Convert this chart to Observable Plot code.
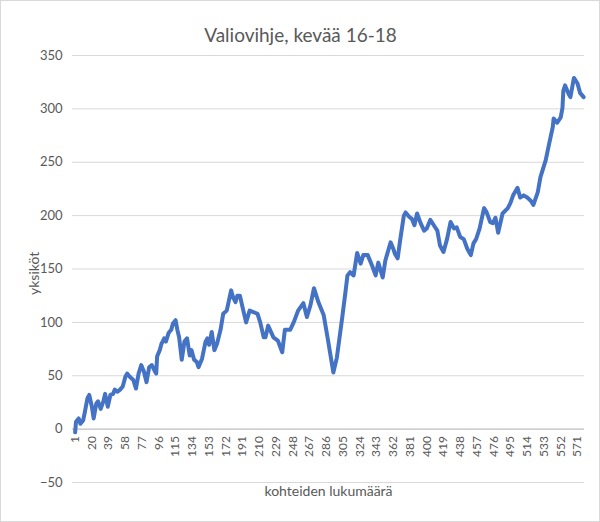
<!DOCTYPE html>
<html>
<head>
<meta charset="utf-8">
<script src="https://cdn.jsdelivr.net/npm/d3@7"></script>
<script src="https://cdn.jsdelivr.net/npm/@observablehq/plot@0.6"></script>
<style>
  html, body { margin: 0; padding: 0; background: #fff; }
  #chart svg { display: block; }
</style>
</head>
<body>
<div id="chart"></div>
<script>
const title = "Valiovihje, kevää 16-18";
const yTitle = "yksiköt";
const xTitle = "kohteiden lukumäärä";

const itemIndex = [1,2,5,7,10,12,15,17,20,22,25,27,30,33,35,38,41,44,46,49,52,55,58,60,63,67,70,73,76,79,82,85,88,91,93,94,97,99,101,102,
  104,107,110,112,115,117,119,122,125,128,131,133,136,139,141,145,149,151,153,156,159,162,166,169,173,178,180,183,185,188,191,195,199,
  208,211,215,217,220,226,231,236,239,245,249,254,260,264,268,272,277,283,288,294,298,304,308,310,313,317,321,325,328,333,338,342,345,350,353,
  359,362,364,367,370,374,376,380,383,386,389,393,397,400,404,408,412,415,419,423,427,431,434,438,442,446,450,453,456,460,465,468,472,
  475,478,481,486,492,495,498,503,506,510,514,518,521,526,529,535,538,543,544,548,552,554,555,557,561,563,567,571,574,578];

const units = [-3,7,10,5,8,16,29,32,21,10,24,26,19,26,33,21,32,33,37,35,37,40,49,52,49,46,38,52,60,54,44,58,60,55,52,68,74,80,83,85,
  82,90,93,99,102,93,86,65,82,85,69,74,65,63,58,66,82,85,79,91,74,80,93,108,111,130,124,119,125,125,114,100,111,
  108,100,86,86,97,86,83,72,93,93,100,111,118,105,116,132,119,107,83,53,67,104,130,144,147,144,165,155,163,163,153,144,156,142,158,
  175,169,164,160,178,200,203,199,197,191,202,193,186,188,196,191,186,172,166,178,194,188,189,180,178,169,163,174,178,188,207,203,194,
  193,198,184,202,207,212,219,226,217,219,217,214,210,222,236,252,264,283,291,287,292,301,317,322,314,311,329,324,315,311];

const tickLabels = [1,20,39,58,77,96,115,134,153,172,191,210,229,248,267,286,305,324,343,362,381,400,419,438,457,476,495,514,533,552,571];
const yTicks = [-50,0,50,100,150,200,250,300,350];

const data = itemIndex.map((d, i) => ({i: d, v: units[i]}));

const font = "Lato, 'Open Sans', sans-serif";
const gray = "#595959";

const chart = Plot.plot({
  width: 600,
  height: 522,
  marginLeft: 72,
  marginRight: 16,
  marginTop: 55,
  marginBottom: 40,
  style: {fontFamily: font, color: gray, background: "#fff"},
  x: {domain: [-2, 579], axis: null},
  y: {domain: [-50, 350], ticks: yTicks},
  marks: [
    Plot.gridY(yTicks, {stroke: "#d9d9d9", strokeOpacity: 1, strokeWidth: 1}),
    Plot.ruleY([0], {stroke: "#bfbfbf", strokeWidth: 1}),
    Plot.axisY(yTicks, {tickSize: 0, tickPadding: 10, fontSize: 13, fill: gray, label: null}),
    Plot.text(tickLabels, {x: d => d, y: 0, text: d => String(d), rotate: -90, textAnchor: "end", lineAnchor: "middle", dy: 7, fontSize: 12, fill: gray}),
    Plot.line(data, {x: "i", y: "v", stroke: "#4472C4", strokeWidth: 4, strokeLinejoin: "round", strokeLinecap: "round"}),
    Plot.text([title], {frameAnchor: "top", dx: -28, dy: -27, fontSize: 19, fill: gray}),
    Plot.text([yTitle], {frameAnchor: "left", dx: -38, dy: 26, rotate: -90, fontSize: 14, fill: gray}),
    Plot.text([xTitle], {frameAnchor: "bottom", dy: 13, fontSize: 14, fill: gray})
  ]
});

document.getElementById("chart").appendChild(chart);
d3.select(chart).append("rect")
  .attr("x", 0.5).attr("y", 0.5).attr("width", 599).attr("height", 521)
  .attr("fill", "none").attr("stroke", "#d9d9d9");
</script>
</body>
</html>
